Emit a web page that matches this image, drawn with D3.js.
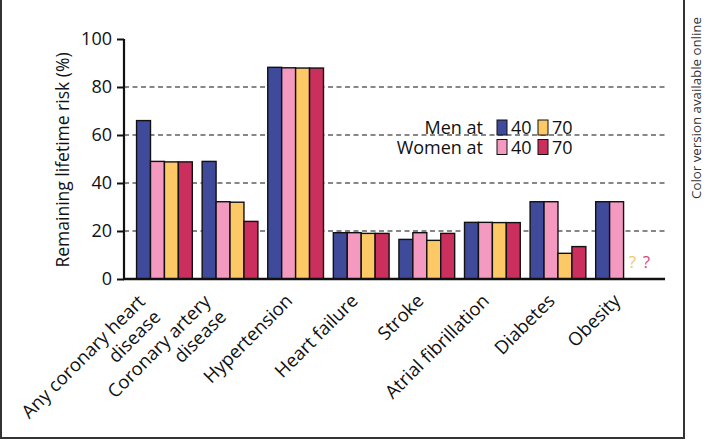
<!DOCTYPE html>
<html>
<head>
<meta charset="utf-8">
<script src="https://cdn.jsdelivr.net/npm/d3@7"></script>
<style>
    body { margin: 0; background: #fff; }
    text { font-family: "Open Sans", "DejaVu Sans", sans-serif; fill: #111; }
</style>
</head>
<body>
<svg width="704" height="440"></svg>
<script>
// chart data
var categories = ["Any coronary heart|disease", "Coronary artery|disease", "Hypertension", "Heart failure",
    "Stroke", "Atrial fibrillation", "Diabetes", "Obesity"];
var seriesNames = ["Men at 40", "Women at 40", "Men at 70", "Women at 70"];
var men40 = [66, 49, 88.2, 19.3, 16.5, 23.6, 32.2, 32.2];
var women40 = [49, 32.2, 88, 19.3, 19.3, 23.6, 32.2, 32.2];
var men70 = [48.8, 32, 87.9, 19, 16.1, 23.5, 10.7, null];
var women70 = [48.8, 24, 87.9, 19, 19, 23.5, 13.5, null];
var yTicks = [0, 20, 40, 60, 80, 100];
var gridValues = [20, 40, 60, 80];

function main() {
    var svg = d3.select("svg"),
        width = +svg.attr("width"),
        height = +svg.attr("height");

    var colors = ["#3f4a9b", "#f49ac1", "#fdc967", "#cb2f5d"];
    var allSeries = [men40, women40, men70, women70];

    var x = d3.scaleBand().domain(categories).range([130, 658]).paddingInner(0.15).paddingOuter(0.1);
    var xSub = d3.scaleBand().domain(d3.range(4)).range([0, x.bandwidth()]);
    var y = d3.scaleLinear().domain([0, 100]).range([279, 39]);

    // dashed gridlines behind the bars
    svg.append("g").selectAll("line")
        .data(gridValues)
        .enter().append("line")
        .attr("x1", 124).attr("x2", 665)
        .attr("y1", function (d) { return y(d); })
        .attr("y2", function (d) { return y(d); })
        .style("stroke", "#111")
        .style("stroke-width", 1.1)
        .style("stroke-dasharray", "5,3.5");

    // bars
    var groups = svg.append("g").selectAll("g")
        .data(categories)
        .enter().append("g")
        .attr("transform", function (d) { return "translate(" + x(d) + ",0)"; });

    groups.selectAll("rect")
        .data(function (d, i) {
            return allSeries.map(function (s, k) { return { k: k, v: s[i] }; })
                .filter(function (e) { return e.v != null; });
        })
        .enter().append("rect")
        .attr("x", function (d) { return xSub(d.k); })
        .attr("y", function (d) { return y(d.v); })
        .attr("width", xSub.bandwidth())
        .attr("height", function (d) { return y(0) - y(d.v); })
        .attr("fill", function (d) { return colors[d.k]; })
        .style("stroke", "#111")
        .style("stroke-width", 1.4);

    // question marks for missing obesity values at 70
    var last = categories[categories.length - 1];
    var qColors = ["#f3c46e", "#d8477a"];
    [2, 3].forEach(function (k, j) {
        svg.append("text")
            .attr("x", x(last) + xSub(k) + xSub.bandwidth() / 2 + 2)
            .attr("y", 268)
            .attr("text-anchor", "middle")
            .style("font-size", "17px")
            .style("fill", qColors[j])
            .text("?");
    });

    // y axis
    var yAxis = d3.axisLeft(y).tickValues(yTicks).tickSize(7).tickPadding(5);
    var gy = svg.append("g").attr("transform", "translate(124,0)").call(yAxis);
    gy.select(".domain").attr("d", "M0," + y(100) + "V" + y(0)).style("stroke", "#111").style("stroke-width", 2.2);
    gy.selectAll(".tick line").style("stroke", "#111").style("stroke-width", 2);
    gy.selectAll(".tick text").style("font-size", "18px").style("font-family", "Open Sans").style("fill", "#111");

    // x axis baseline
    svg.append("line")
        .attr("x1", 123).attr("x2", 665)
        .attr("y1", y(0)).attr("y2", y(0))
        .style("stroke", "#111")
        .style("stroke-width", 2.5);

    // rotated category labels, multi-line ones split on "|"
    categories.forEach(function (c) {
        var lines = c.split("|");
        var n = lines.length;
        var cx = x(c) + x.bandwidth() / 2 - 2;
        var t = svg.append("text")
            .attr("transform", "translate(" + cx + ",302) rotate(-45)")
            .attr("text-anchor", "end")
            .style("font-size", "18.5px");
        lines.forEach(function (l, i) {
            t.append("tspan")
                .attr("x", n > 1 ? -12 : 0)
                .attr("y", (i - (n - 1) / 2) * 22)
                .text(l);
        });
    });

    // y axis title
    svg.append("text")
        .attr("transform", "translate(69,160) rotate(-90)")
        .attr("text-anchor", "middle")
        .style("font-size", "17.5px")
        .text("Remaining lifetime risk (%)");

    // legend
    var legend = svg.append("g");
    var rows = [["Men at", 0, 2], ["Women at", 1, 3]];
    rows.forEach(function (r, i) {
        var by = 134 + i * 19.5;
        legend.append("text")
            .attr("x", 483).attr("y", by)
            .attr("text-anchor", "end")
            .style("font-size", "18px")
            .text(r[0]);
        [[r[1], 497, "40"], [r[2], 538, "70"]].forEach(function (s) {
            legend.append("rect")
                .attr("x", s[1]).attr("y", by - 14)
                .attr("width", 10).attr("height", 15)
                .attr("fill", colors[s[0]])
                .style("stroke", "#111")
                .style("stroke-width", 1);
            legend.append("text")
                .attr("x", s[1] + 14).attr("y", by)
                .style("font-size", "18px")
                .text(s[2]);
        });
    });

    // frame
    svg.append("path")
        .attr("d", "M1,0V438H684V0")
        .style("fill", "none")
        .style("stroke", "#333")
        .style("stroke-width", 2);

    svg.append("text")
        .attr("transform", "translate(701,108) rotate(-90)")
        .attr("text-anchor", "middle")
        .style("font-size", "13.3px")
        .style("fill", "#333")
        .text("Color version available online");
}
main();
</script>
</body>
</html>
